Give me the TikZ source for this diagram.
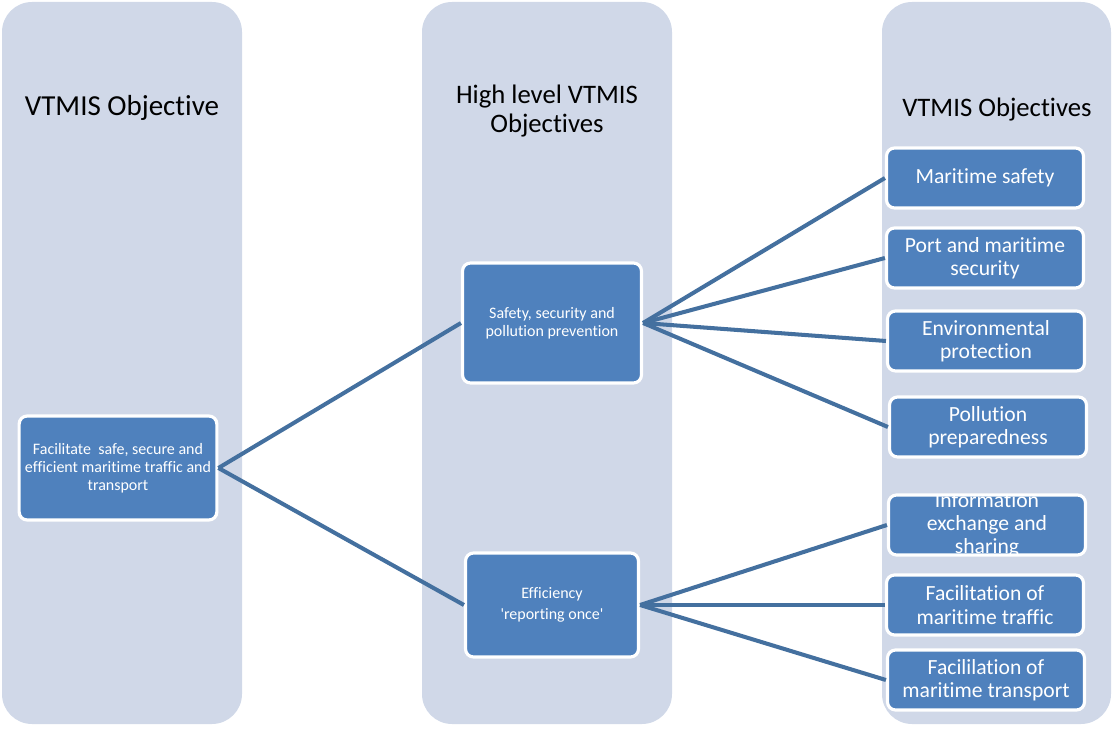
\documentclass[tikz,border=0pt]{standalone}
\usepackage{fontspec}
\setmainfont{Carlito}[Ligatures=NoCommon]
\usetikzlibrary{positioning}

\definecolor{colbg}{HTML}{D0D8E8}
\definecolor{boxfill}{HTML}{4F81BD}
\definecolor{linkcol}{HTML}{44709F}

\begin{document}
\begin{tikzpicture}[
    x=0.02cm, y=-0.02cm,
    column/.style={fill=colbg, rounded corners=0.6cm},
    heading/.style={align=center, font=\fontsize{15.2pt}{16pt}\selectfont},
    goal/.style={rectangle, rounded corners=0.16cm, draw=white, line width=1.8pt, fill=boxfill,
        text=white, align=center, font=\fontsize{9.1pt}{10.2pt}\selectfont},
    objective/.style={goal, minimum width=3.94cm, minimum height=1.2cm,
        font=\fontsize{12.3pt}{13.2pt}\selectfont},
    link/.style={draw=linkcol, line width=2.3pt}
]
\useasboundingbox (0,0) rectangle (1113,729);

% Background columns
\fill[column] (2,2) rectangle (242,724);
\fill[column] (422,2) rectangle (672,724);
\fill[column] (882,2) rectangle (1111,724);

% Column headings
\node[heading, font=\fontsize{16.5pt}{17pt}\selectfont] (head1) at (122,108) {VTMIS Objective};
\node[heading] (head2) at (547,111) {High level VTMIS\\Objectives};
\node[heading] (head3) at (997,110) {VTMIS Objectives};

% Main objective
\node[goal, minimum width=3.94cm, minimum height=2.08cm] (main) at (118,468)
    {Facilitate\ \ safe, secure and\\efficient maritime traffic and\\transport};

% High level objectives
\node[goal, minimum width=3.58cm, minimum height=2.40cm] (safety) at (552,323)
    {Safety, security and\\pollution prevention};
\node[goal, minimum width=3.46cm, minimum height=2.08cm] (effic) at (552,605)
    {Efficiency\\[2pt]\textquotesingle reporting once\textquotesingle};

% Detailed objectives
\node[objective] (msafe) at (985,178) {Maritime safety};
\node[objective] (psec) at (985,258) {Port and maritime\\security};
\node[objective] (envprot) at (986,341) {Environmental\\protection};
\node[objective] (pollprep) at (988,427) {Pollution\\preparedness};
\node[objective, path picture={
    \node[text=white, align=center, font=\fontsize{12.3pt}{13.2pt}\selectfont]
        at (path picture bounding box.center) {Information\\exchange and\\sharing};}]
    (infoex) at (987,525) {};
\node[objective] (factraf) at (985,605) {Facilitation of\\maritime traffic};
\node[objective] (factrans) at (986,680) {Facililation of\\maritime transport};

% Links
\draw[link] (main.east) -- (safety.west);
\draw[link] (main.east) -- (effic.west);
\draw[link] (safety.east) -- (msafe.west);
\draw[link] (safety.east) -- (psec.west);
\draw[link] (safety.east) -- (envprot.west);
\draw[link] (safety.east) -- (pollprep.west);
\draw[link] (effic.east) -- (infoex.west);
\draw[link] (effic.east) -- (factraf.west);
\draw[link] (effic.east) -- (factrans.west);

\end{tikzpicture}
\end{document}
